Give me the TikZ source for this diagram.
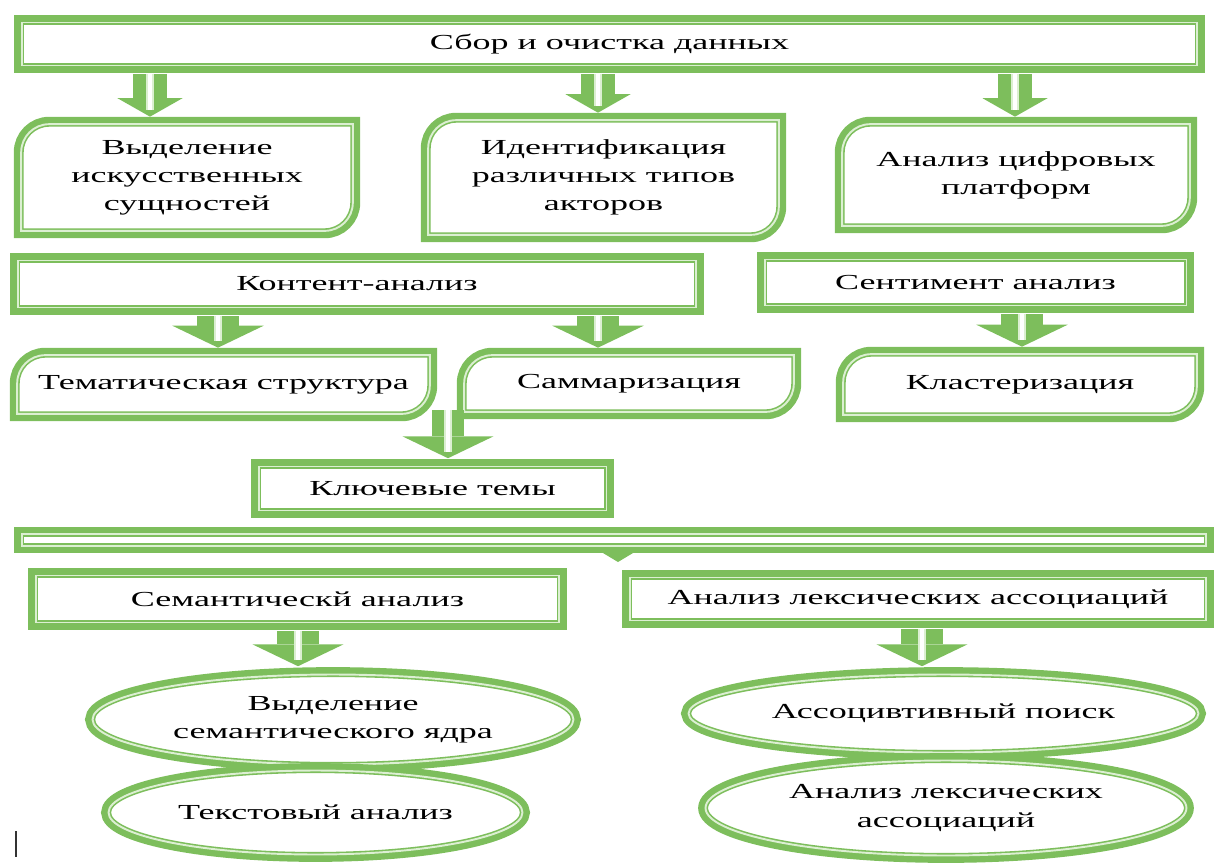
\documentclass[tikz,border=0pt]{standalone}
\usepackage{fontspec}
\setmainfont{Liberation Serif}[FakeStretch=1.68]
\usetikzlibrary{arrows.meta,positioning,shapes.geometric,backgrounds}
\definecolor{grn}{RGB}{125,190,92}
\definecolor{pale}{RGB}{220,239,210}
\tikzset{
    %Define the double green frame
    frame/.style={
           draw=grn,
           line width=0.9pt,
           double=pale,
           double distance=1.1pt,
           fill=white,
           preaction={draw=grn, line width=8.4pt}},
    %Define style for text
    txt/.style={
           inner sep=0pt,
           align=center,
           font=\fontsize{12.2}{16}\selectfont},
    %Define style for boxes
    sbox/.style={
           rectangle,
           frame,
           txt},
    rbox/.style={
           rectangle,
           txt},
    oval/.style={
           ellipse,
           frame,
           txt},
    % Define block arrow style
    garr/.style={
           draw=grn,
           line width=19pt,
           -{Triangle[width=37pt,length=10.5pt,line width=0pt]},
           shorten <=0.15cm,
           shorten >=0.15cm,
           postaction={draw=pale, arrows=-, line width=0.8pt,
                       double=white, double distance=2.6pt,
                       shorten >=8pt}},
    wgarr/.style={
           garr,
           line width=24pt,
           -{Triangle[width=52pt,length=12.5pt,line width=0pt]}},
    tarr/.style={
           draw=grn,
           line width=7pt,
           -{Triangle[width=20pt,length=6pt,line width=0pt]}}
}
% frame with two round corners
\newcommand{\rframe}[1]{%
  \begin{scope}[on background layer]
    \path[frame] (#1.west) [rounded corners=16pt] -- (#1.north west) -- (#1.north)
      [sharp corners] -- (#1.north east) -- (#1.east)
      [rounded corners=16pt] -- (#1.south east) -- (#1.south)
      [sharp corners] -- (#1.south west) -- cycle;
  \end{scope}}

\begin{document}
\begin{tikzpicture}[x=0.02cm, y=-0.02cm]
    \useasboundingbox (0,0) rectangle (1218,863);

    % DATA
    \node[sbox, minimum width=23.52cm, minimum height=0.86cm] at (609.5,44) (collect) {Сбор и очистка данных};

    \node[rbox, minimum width=6.62cm, minimum height=2.12cm] at (187,177.5) (artif) {Выделение\\искусственных\\сущностей};
    \node[rbox, minimum width=7cm, minimum height=2.28cm] at (603.5,177.5) (actors) {Идентификация\\различных типов\\акторов};
    \node[rbox, minimum width=6.94cm, minimum height=2.02cm] at (1016,175) (platf) {Анализ цифровых\\платформ};

    % CONTENT AND SENTIMENT
    \node[sbox, minimum width=13.58cm, minimum height=0.94cm] at (357,284) (content) {Контент-анализ};
    \node[sbox, minimum width=8.44cm, minimum height=0.92cm] at (975.5,282.5) (senti) {Сентимент анализ};

    \node[rbox, minimum width=8.24cm, minimum height=1.16cm] at (223.5,384.5) (topics) {Тематическая структура};
    \node[rbox, minimum width=6.58cm, minimum height=1.12cm] at (629,383.5) (summ) {Саммаризация};
    \node[rbox, minimum width=7.06cm, minimum height=1.2cm] at (1020,384.5) (clust) {Кластеризация};

    \node[sbox, minimum width=6.96cm, minimum height=0.88cm] at (432.5,488.5) (keys) {Ключевые темы};
    \node[sbox, minimum width=23.7cm, minimum height=0.24cm] at (614,540) (bar) {};

    % SEMANTICS AND LEXICON
    \node[sbox, minimum width=10.48cm, minimum height=0.94cm] at (297.5,599) (seman) {Семантическй анализ};
    \node[sbox, minimum width=11.54cm, minimum height=0.86cm] at (918,599) (lexic) {Анализ лексических ассоциаций};

    \node[oval, minimum width=9.62cm, minimum height=1.8cm] at (333,719.5) (core) {Выделение\\семантического ядра};
    \node[oval, minimum width=8.28cm, minimum height=1.68cm] at (315.5,812.5) (textan) {Текстовый анализ};
    \node[oval, minimum width=10.2cm, minimum height=1.56cm] at (943.5,713.5) (assoc) {Ассоцивтивный поиск};
    \node[oval, minimum width=9.62cm, minimum height=1.9cm] at (946,808) (lexan) {Анализ лексических\\ассоциаций};

    \rframe{artif}
    \rframe{actors}
    \rframe{platf}
    \rframe{topics}
    \rframe{summ}
    \rframe{clust}

    % ARROWS
    \coordinate (a1) at (150,0);
    \coordinate (a2) at (598,0);
    \coordinate (a3) at (1015,0);
    \coordinate (b1) at (218,0);
    \coordinate (b2) at (598,0);
    \coordinate (b3) at (1022,0);
    \coordinate (join) at (448,410);
    \coordinate (notch) at (618,562);
    \coordinate (c1) at (298,0);
    \coordinate (c2) at (922,0);

    \draw[garr] (collect.south -| a1) -- (artif.north -| a1);
    \draw[garr] (collect.south -| a2) -- (actors.north -| a2);
    \draw[garr] (collect.south -| a3) -- (platf.north -| a3);
    \draw[wgarr] (content.south -| b1) -- (topics.north -| b1);
    \draw[wgarr] (content.south -| b2) -- (summ.north -| b2);
    \draw[wgarr] (senti.south -| b3) -- (clust.north -| b3);
    \draw[wgarr, line width=18pt, shorten <=0pt] (join) -- (keys.north -| join);
    \draw[tarr] (bar.south -| notch) -- (notch);
    \draw[wgarr] (seman.south -| c1) -- (core.north -| c1);
    \draw[wgarr] (lexic.south -| c2) -- (assoc.north -| c2);

    % cursor
    \draw[line width=1.2pt, black!80] (16,831) -- (16,857);
\end{tikzpicture}
\end{document}
